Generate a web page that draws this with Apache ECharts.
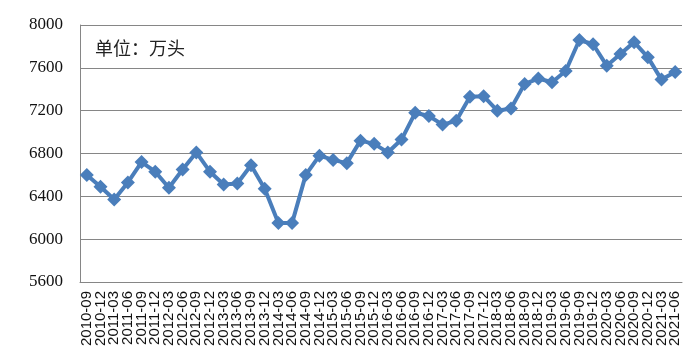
<!DOCTYPE html>
<html>
<head>
<meta charset="utf-8">
<script src="https://cdn.jsdelivr.net/npm/echarts@6/dist/echarts.min.js"></script>
<style>
html,body{margin:0;padding:0;background:#fff;}
#c{width:696px;height:358px;}
</style>
</head>
<body>
<div id="c"></div>
<script>
const categories = [
  "2010-09","2010-12",
  "2011-03","2011-06","2011-09","2011-12",
  "2012-03","2012-06","2012-09","2012-12",
  "2013-03","2013-06","2013-09","2013-12",
  "2014-03","2014-06","2014-09","2014-12",
  "2015-03","2015-06","2015-09","2015-12",
  "2016-03","2016-06","2016-09","2016-12",
  "2017-03","2017-06","2017-09","2017-12",
  "2018-03","2018-06","2018-09","2018-12",
  "2019-03","2019-06","2019-09","2019-12",
  "2020-03","2020-06","2020-09","2020-12",
  "2021-03","2021-06"
];
const values = [
  6600, 6490,
  6370, 6530, 6720, 6630,
  6480, 6650, 6810, 6630,
  6510, 6520, 6690, 6470,
  6150, 6150, 6600, 6780,
  6740, 6710, 6920, 6890,
  6810, 6930, 7180, 7150,
  7070, 7105, 7330, 7335,
  7200, 7220, 7450, 7500,
  7465, 7570, 7860, 7820,
  7620, 7730, 7840, 7700,
  7490, 7560
];
const unitLabel = "单位：万头";
const yMin = 5600, yMax = 8000, yStep = 400;

const chart = echarts.init(document.getElementById('c'));
chart.setOption({
  animation: false,
  backgroundColor: '#ffffff',
  title: {
    text: unitLabel,
    left: 90, top: 34,
    textStyle: { fontFamily: '"Noto Sans CJK SC", sans-serif', fontSize: 18, fontWeight: 'normal', color: '#222' }
  },
  grid: { left: 80, right: 14, top: 25, bottom: 76 },
  xAxis: {
    type: 'category',
    data: categories,
    boundaryGap: true,
    axisLine: { show: true, lineStyle: { color: '#868686', width: 1 } },
    axisTick: { show: false },
    axisLabel: {
      interval: 0, rotate: 90, margin: 9,
      fontFamily: '"Liberation Sans", Arial, sans-serif',
      fontSize: 15, color: '#111'
    },
    splitLine: { show: false }
  },
  yAxis: {
    type: 'value',
    min: yMin, max: yMax, interval: yStep,
    axisLine: { show: true, lineStyle: { color: '#868686', width: 1 } },
    axisTick: { show: false },
    axisLabel: {
      margin: 17,
      formatter: function (v) { return String(v); },
      fontFamily: '"Liberation Serif", "Times New Roman", serif',
      fontSize: 17, color: '#111'
    },
    splitLine: { show: true, lineStyle: { color: '#868686', width: 1 } }
  },
  series: [{
    type: 'line',
    data: values,
    symbol: 'diamond',
    symbolSize: 14,
    lineStyle: { color: '#4a7ebb', width: 4 },
    itemStyle: { color: '#4a7ebb' }
  }]
});
</script>
</body>
</html>
